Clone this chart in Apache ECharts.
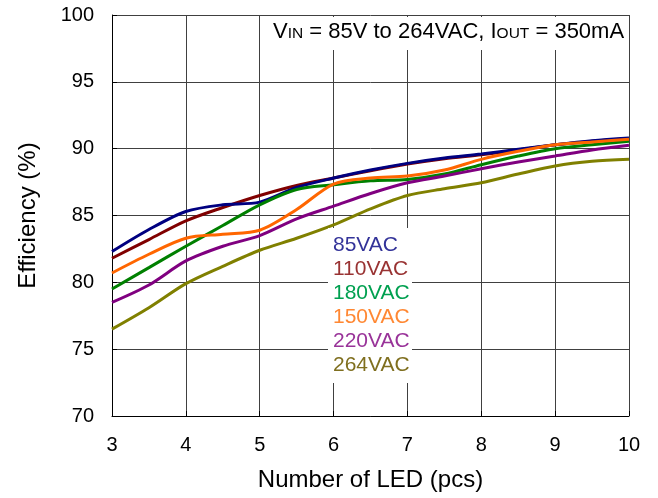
<!DOCTYPE html>
<html>
<head>
<meta charset="utf-8">
<script src="https://cdn.jsdelivr.net/npm/echarts@6/dist/echarts.min.js"></script>
<style>
html,body{margin:0;padding:0;background:#fff;}
#c{width:658px;height:498px;}
</style>
</head>
<body>
<div id="c"></div>
<script>
// Number of LEDs (pcs)
var ledCount = [3, 3.5, 4, 4.5, 5, 5.5, 6, 6.5, 7, 7.5, 8, 8.5, 9, 9.5, 10];
// Efficiency (%) per input voltage
var eff85  = [82.3, 83.95, 85.3, 85.8, 86.0, 87.1, 87.8, 88.4, 88.9, 89.3, 89.6, 89.95, 90.3, 90.6, 90.8];
var eff110 = [81.8, 83.2, 84.6, 85.6, 86.5, 87.25, 87.8, 88.35, 88.85, 89.25, 89.55, 89.9, 90.3, 90.55, 90.75];
var eff180 = [79.5, 81.1, 82.7, 84.25, 85.8, 86.95, 87.3, 87.6, 87.7, 88.1, 88.8, 89.45, 90.0, 90.3, 90.55];
var eff150 = [80.7, 82.1, 83.3, 83.6, 83.9, 85.45, 87.35, 87.8, 87.95, 88.4, 89.2, 89.8, 90.3, 90.5, 90.7];
var eff220 = [78.5, 79.8, 81.6, 82.7, 83.5, 84.75, 85.7, 86.65, 87.45, 87.95, 88.5, 89.0, 89.45, 89.9, 90.25];
var eff264 = [76.5, 78.1, 79.9, 81.2, 82.4, 83.3, 84.3, 85.5, 86.5, 87.0, 87.45, 88.1, 88.7, 89.05, 89.2];

var seriesNames = ['85VAC', '110VAC', '180VAC', '150VAC', '220VAC', '264VAC'];
var seriesData = [eff85, eff110, eff180, eff150, eff220, eff264];
var lineColors = ['#000080', '#800000', '#008000', '#ff6600', '#800080', '#808000'];
var labelColors = ['#333399', '#993333', '#00a050', '#ff8833', '#993399', '#7f6f1f'];
var drawOrder = [1, 0, 2, 4, 5, 3];

var xTicks = [3, 4, 5, 6, 7, 8, 9, 10];
var yTicks = [70, 75, 80, 85, 90, 95, 100];

var FONT = '"Liberation Sans", Arial, sans-serif';

function pairs(arr) {
  return ledCount.map(function (x, i) { return [x, arr[i]]; });
}

var series = drawOrder.map(function (idx) {
  return {
    name: seriesNames[idx],
    type: 'line',
    data: pairs(seriesData[idx]),
    smooth: 0.3,
    showSymbol: false,
    lineStyle: { color: lineColors[idx], width: 3 },
    itemStyle: { color: lineColors[idx] },
    z: 3
  };
});

var legendTexts = seriesNames.map(function (n, i) {
  return {
    type: 'text',
    left: 333,
    top: 234.5 + i * 24,
    z: 101,
    style: { text: n, fill: labelColors[i], font: '21px ' + FONT }
  };
});

var chart = echarts.init(document.getElementById('c'), null, { renderer: 'canvas' });
chart.setOption({
  animation: false,
  backgroundColor: '#fff',
  grid: { left: 112, right: 29, top: 15, bottom: 82, containLabel: false },
  xAxis: {
    type: 'value',
    min: xTicks[0],
    max: xTicks[xTicks.length - 1],
    interval: 1,
    name: 'Number of LED (pcs)',
    nameLocation: 'middle',
    nameGap: 52,
    nameTextStyle: { fontSize: 24, color: '#000', fontFamily: FONT },
    axisLine: { lineStyle: { color: '#000', width: 1 } },
    axisTick: { show: true, inside: true, length: 5, lineStyle: { color: '#000' } },
    axisLabel: { fontSize: 20, color: '#000', fontFamily: FONT, margin: 19 },
    splitLine: { show: true, lineStyle: { color: '#404040', width: 1 } }
  },
  yAxis: {
    type: 'value',
    min: yTicks[0],
    max: yTicks[yTicks.length - 1],
    interval: 5,
    name: 'Efficiency (%)',
    nameLocation: 'middle',
    nameGap: 72,
    nameTextStyle: { fontSize: 24, color: '#000', fontFamily: FONT },
    axisLine: { show: true, lineStyle: { color: '#000', width: 1 } },
    axisTick: { show: true, inside: true, length: 5, lineStyle: { color: '#000' } },
    axisLabel: { fontSize: 20, color: '#000', fontFamily: FONT, margin: 18 },
    splitLine: { show: true, lineStyle: { color: '#404040', width: 1 } }
  },
  series: series,
  graphic: [
    {
      type: 'rect', left: 267, top: 17, z: 100,
      shape: { width: 360, height: 33 },
      style: { fill: '#fff' }
    },
    {
      type: 'text', left: 273, top: 21, z: 101,
      style: {
        text: '{a|V}{s|IN}{a| = 85V to 264VAC, I}{s|OUT}{a| = 350mA}',
        rich: {
          a: { fontSize: 22, fontFamily: FONT, fill: '#000', verticalAlign: 'bottom', lineHeight: 22 },
          s: { fontSize: 15.5, fontFamily: FONT, fill: '#000', verticalAlign: 'bottom', lineHeight: 15.5, padding: [0, 0, 1, 0] }
        }
      }
    },
    {
      type: 'rect', left: 328, top: 228, z: 100,
      shape: { width: 84, height: 155 },
      style: { fill: '#fff' }
    }
  ].concat(legendTexts)
});
</script>
</body>
</html>
